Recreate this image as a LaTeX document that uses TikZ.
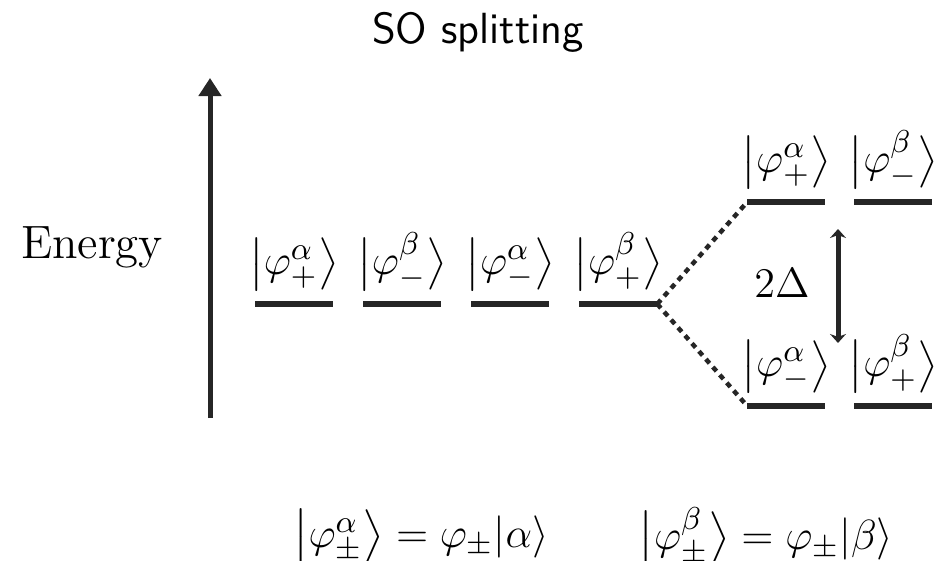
\documentclass[tikz,border=0pt]{standalone}
\usepackage{amsmath,amssymb}
\usetikzlibrary{arrows.meta, positioning}

\newcommand{\sket}[1]{\bigl|#1\bigr\rangle}

\begin{document}
\begin{tikzpicture}[
        x=0.01cm, y=-0.01cm,
        font=\fontsize{12.4}{15}\selectfont,
        level/.style={fill=black!85, minimum width=0.78cm, minimum height=0.055cm, inner sep=0pt, outer sep=0pt},
        state/.style={inner sep=0pt},
        formula/.style={inner sep=0pt, font=\fontsize{13}{16}\selectfont},
        axis/.style={-{Triangle[length=0.18cm,width=0.22cm]}, line width=0.05cm, black!85},
        split/.style={line width=0.045cm, dash pattern=on 0.055cm off 0.05cm, black!85},
        gap/.style={{Stealth[length=0.09cm,width=0.16cm]}-{Stealth[length=0.09cm,width=0.16cm]}, line width=0.05cm, black!85}
    ]
        \useasboundingbox (0,0) rectangle (949,561);
        \node[font=\fontsize{12.4}{14}\selectfont\sffamily] (title) at (478,32) {SO splitting};

        % energy axis
        \coordinate (ebot) at (210,418);
        \coordinate (etop) at (210,78);
        \draw[axis] (ebot) -- (etop);
        \node[font=\fontsize{13.3}{15}\selectfont] (energy) at (92,247) {Energy};

        % degenerate levels
        \node[level] (l1) at (294,304) {};
        \node[level, right=0.3cm of l1] (l2) {};
        \node[level, right=0.3cm of l2] (l3) {};
        \node[level, right=0.3cm of l3] (l4) {};
        \node[state, above=0.1cm of l1] (s1) {$\sket{\varphi^{\alpha}_{+}}$};
        \node[state, above=0.1cm of l2] (s2) {$\sket{\varphi^{\beta}_{-}}$};
        \node[state, above=0.1cm of l3] (s3) {$\sket{\varphi^{\alpha}_{-}}$};
        \node[state, above=0.1cm of l4] (s4) {$\sket{\varphi^{\beta}_{+}}$};

        % split levels
        \node[level, right=0.9cm of l4, yshift=1.02cm] (u1) {};
        \node[level, right=0.29cm of u1] (u2) {};
        \node[level, right=0.9cm of l4, yshift=-1.02cm] (d1) {};
        \node[level, right=0.29cm of d1] (d2) {};
        \node[state, above=0.1cm of u1] (su1) {$\sket{\varphi^{\alpha}_{+}}$};
        \node[state, above=0.1cm of u2] (su2) {$\sket{\varphi^{\beta}_{-}}$};
        \node[state, above=0.1cm of d1] (sd1) {$\sket{\varphi^{\alpha}_{-}}$};
        \node[state, above=0.1cm of d2] (sd2) {$\sket{\varphi^{\beta}_{+}}$};

        \draw[split] (l4.east) -- (u1.west);
        \draw[split] (l4.east) -- (d1.west);

        \coordinate (gtop) at (838,229);
        \coordinate (gbot) at (838,343);
        \draw[gap] (gtop) -- (gbot);
        \node (delta) at (782,283) {$2\Delta$};

        \node[formula] (f1) at (421,537) {$\sket{\varphi^{\alpha}_{\pm}} = \varphi_{\pm}|\alpha\rangle$};
        \node[formula] (f2) at (766,537) {$\sket{\varphi^{\beta}_{\pm}} = \varphi_{\pm}|\beta\rangle$};
    \end{tikzpicture}
\end{document}
